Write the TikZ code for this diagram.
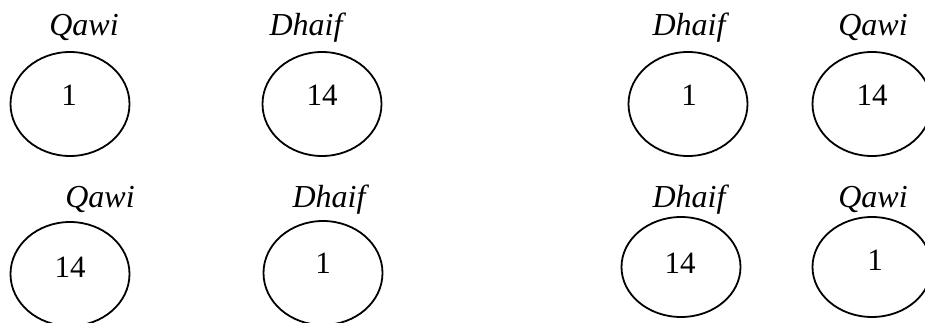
\documentclass[tikz,border=0pt]{standalone}
\usepackage{fontspec}
\setmainfont{Liberation Serif}
\usetikzlibrary{shapes.geometric}
\begin{document}
\begin{tikzpicture}[x=1pt,y=-1pt,
  ell/.style={draw=black,line width=1.8pt,ellipse,inner sep=0pt,minimum width=119pt,minimum height=104pt},
  lab/.style={anchor=base,inner sep=0pt,font=\fontsize{32}{34}\selectfont\itshape},
  num/.style={anchor=base,inner sep=0pt,font=\fontsize{31}{34}\selectfont}]
\useasboundingbox (0,0) rectangle (925,323);
\clip (0,0) rectangle (925,323);
% top row
\node[ell] (e1) at (70,104) {};
\node[ell] (e2) at (322,104) {};
\node[ell] (e3) at (688,104) {};
\node[ell] (e4) at (872,104) {};
\node[num] (n1) at (69,106) {1};
\node[num] (n2) at (322,106) {14};
\node[num] (n3) at (689,106) {1};
\node[num] (n4) at (872,106) {14};
\node[lab] (l1) at (84,36) {Qawi};
\node[lab] (l2) at (306,36) {Dhaif};
\node[lab] (l3) at (689,36) {Dhaif};
\node[lab] (l4) at (873,36) {Qawi};
% bottom row
\node[ell] (f1) at (70,274) {};
\node[ell] (f2) at (323,273) {};
\node[ell,minimum height=100pt] (f3) at (681,267) {};
\node[ell,minimum height=100pt] (f4) at (872,267) {};
\node[num] (m1) at (70,277) {14};
\node[num] (m2) at (323,273) {1};
\node[num] (m3) at (680,273) {14};
\node[num] (m4) at (875,270) {1};
\node[lab] (k1) at (100,207) {Qawi};
\node[lab] (k2) at (329,207) {Dhaif};
\node[lab] (k3) at (689,207) {Dhaif};
\node[lab] (k4) at (873,207) {Qawi};
\end{tikzpicture}
\end{document}
